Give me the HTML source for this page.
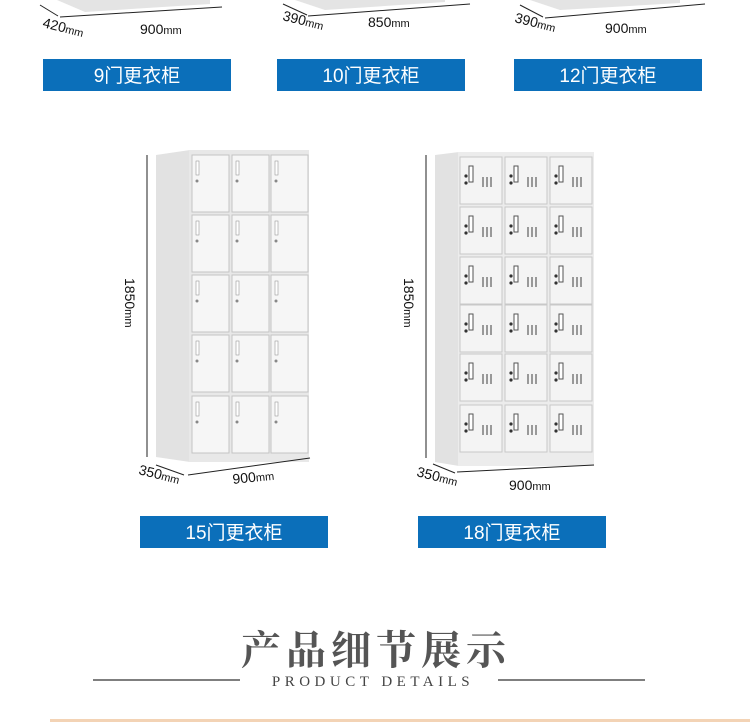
<!DOCTYPE html>
<html><head><meta charset="utf-8"><style>
html,body{margin:0;padding:0;background:#fff;}
svg{display:block}
.dim{font-family:"Liberation Sans",sans-serif;font-size:14px;fill:#111}
.bt{font-family:"Liberation Sans","Noto Sans CJK SC",sans-serif;font-size:19px;fill:#fff}
</style></head><body>
<svg id="s" width="750" height="722" viewBox="0 0 750 722" xmlns="http://www.w3.org/2000/svg">
<defs>
<g id="d15">
<rect x="0" y="0" width="37" height="57" fill="#f6f6f6" stroke="#c4c4c4" stroke-width="1"/>
<rect x="4" y="6" width="3" height="14" fill="#fff" stroke="#999" stroke-width="0.6"/>
<circle cx="5" cy="26" r="1.5" fill="#888"/>
</g>
<g id="d18">
<rect x="0" y="0" width="42" height="47" fill="#f4f4f4" stroke="#c8c8c8" stroke-width="1"/>
<rect x="9" y="9" width="4" height="16" fill="#fff" stroke="#555" stroke-width="1"/>
<circle cx="6" cy="19" r="1.6" fill="#333"/>
<circle cx="6" cy="26" r="1.6" fill="#333"/>
<rect x="22" y="20" width="2" height="10" fill="#999"/>
<rect x="26" y="20" width="2" height="10" fill="#999"/>
<rect x="30" y="20" width="2" height="10" fill="#999"/>
</g>
</defs>
<!-- top cabinets bottoms -->
<polygon points="57,0 85,12 210,4 210,0" fill="#e4e4e4"/>
<polygon points="295,0 325,10 445,2 445,0" fill="#e4e4e4"/>
<polygon points="530,0 560,10 680,3 680,0" fill="#e4e4e4"/>
<g stroke="#222" stroke-width="1" fill="none">
<line x1="40" y1="5" x2="58" y2="16"/><line x1="60" y1="17" x2="222" y2="7"/>
<line x1="283" y1="4" x2="307" y2="15"/><line x1="308" y1="16" x2="470" y2="4"/>
<line x1="520" y1="5" x2="543" y2="17"/><line x1="545" y1="18" x2="705" y2="4"/>
</g>
<text class="dim" transform="translate(42,27) rotate(14)">420<tspan font-size="11">mm</tspan></text>
<text class="dim" x="140" y="34">900<tspan font-size="11">mm</tspan></text>
<text class="dim" transform="translate(282,20) rotate(14)">390<tspan font-size="11">mm</tspan></text>
<text class="dim" x="368" y="27">850<tspan font-size="11">mm</tspan></text>
<text class="dim" transform="translate(514,22) rotate(14)">390<tspan font-size="11">mm</tspan></text>
<text class="dim" x="605" y="33">900<tspan font-size="11">mm</tspan></text>
<g fill="#0b6fba">
<rect x="43" y="59" width="188" height="32"/>
<rect x="277" y="59" width="188" height="32"/>
<rect x="514" y="59" width="188" height="32"/>
<rect x="140" y="516" width="188" height="32"/>
<rect x="418" y="516" width="188" height="32"/>
</g>
<text class="bt" x="137" y="82" text-anchor="middle">9门更衣柜</text>
<text class="bt" x="371" y="82" text-anchor="middle">10门更衣柜</text>
<text class="bt" x="608" y="82" text-anchor="middle">12门更衣柜</text>
<text class="bt" x="234" y="539" text-anchor="middle">15门更衣柜</text>
<text class="bt" x="512" y="539" text-anchor="middle">18门更衣柜</text>

<!-- 15-door cabinet -->
<polygon points="156,155 190,150 190,462 156,457" fill="#e2e2e2"/>
<rect x="189" y="150" width="120" height="312" fill="#e8e8e8"/>
<use href="#d15" x="192" y="155"/><use href="#d15" x="232" y="155"/><use href="#d15" x="271" y="155"/>
<use href="#d15" x="192" y="215"/><use href="#d15" x="232" y="215"/><use href="#d15" x="271" y="215"/>
<use href="#d15" x="192" y="275"/><use href="#d15" x="232" y="275"/><use href="#d15" x="271" y="275"/>
<use href="#d15" x="192" y="335"/><use href="#d15" x="232" y="335"/><use href="#d15" x="271" y="335"/>
<use href="#d15" x="192" y="396"/><use href="#d15" x="232" y="396"/><use href="#d15" x="271" y="396"/>
<line x1="147" y1="155" x2="147" y2="457" stroke="#222"/>
<text class="dim" transform="translate(125,278) rotate(90)">1850<tspan font-size="11">mm</tspan></text>
<line x1="156" y1="465" x2="184" y2="475" stroke="#222"/>
<line x1="188" y1="475" x2="310" y2="458" stroke="#222"/>
<text class="dim" transform="translate(138,474) rotate(14)">350<tspan font-size="11">mm</tspan></text>
<text class="dim" transform="translate(233,484) rotate(-6)">900<tspan font-size="11">mm</tspan></text>

<!-- 18-door cabinet -->
<polygon points="435,155 459,152 459,466 435,462" fill="#e2e2e2"/>
<rect x="458" y="152" width="136" height="314" fill="#ececec"/>
<use href="#d18" x="460" y="157"/><use href="#d18" x="505" y="157"/><use href="#d18" x="550" y="157"/>
<use href="#d18" x="460" y="207"/><use href="#d18" x="505" y="207"/><use href="#d18" x="550" y="207"/>
<use href="#d18" x="460" y="257"/><use href="#d18" x="505" y="257"/><use href="#d18" x="550" y="257"/>
<use href="#d18" x="460" y="305"/><use href="#d18" x="505" y="305"/><use href="#d18" x="550" y="305"/>
<use href="#d18" x="460" y="354"/><use href="#d18" x="505" y="354"/><use href="#d18" x="550" y="354"/>
<use href="#d18" x="460" y="405"/><use href="#d18" x="505" y="405"/><use href="#d18" x="550" y="405"/>
<line x1="426" y1="155" x2="426" y2="458" stroke="#222"/>
<text class="dim" transform="translate(404,278) rotate(90)">1850<tspan font-size="11">mm</tspan></text>
<line x1="433" y1="464" x2="455" y2="473" stroke="#222"/>
<line x1="457" y1="472" x2="594" y2="465" stroke="#222"/>
<text class="dim" transform="translate(416,476) rotate(14)">350<tspan font-size="11">mm</tspan></text>
<text class="dim" x="509" y="490">900<tspan font-size="11">mm</tspan></text>

<!-- title -->
<text x="376" y="664" text-anchor="middle" font-family="'Noto Serif CJK SC',serif" font-weight="bold" font-size="40" fill="#555" letter-spacing="5">产品细节展示</text>
<line x1="93" y1="680" x2="240" y2="680" stroke="#555" stroke-width="1.5"/>
<line x1="498" y1="680" x2="645" y2="680" stroke="#555" stroke-width="1.5"/>
<text x="373" y="686" text-anchor="middle" font-family="'Liberation Serif',serif" font-size="15" fill="#444" letter-spacing="4.5">PRODUCT DETAILS</text>
<rect x="50" y="719" width="700" height="3" fill="#f3d3b5"/>
</svg>
</body></html>
